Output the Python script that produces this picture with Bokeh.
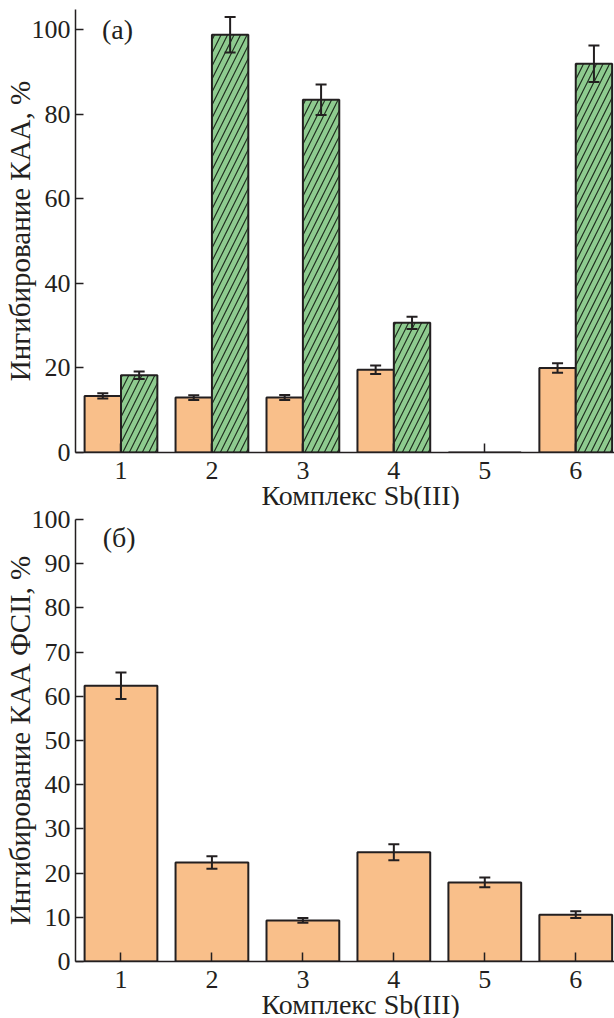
import math
from bokeh.plotting import figure
from bokeh.layouts import column
from bokeh.models import (ColumnDataSource, Whisker, TeeHead, FixedTicker,
                          Range1d, Label, Title)
from bokeh.embed import file_html
from bokeh.resources import INLINE

# ---- data ----
complexes = [1, 2, 3, 4, 5, 6]
tick_labels = ["1", "2", "3", "4", "5", "6"]
a_orange = [13.4, 13.0, 13.0, 19.6, 0.0, 20.0]
a_orange_err = [0.6, 0.55, 0.6, 1.0, 0.0, 1.15]
a_green = [18.3, 98.9, 83.5, 30.7, 0.0, 92.0]
a_green_err = [0.9, 4.2, 3.6, 1.45, 0.0, 4.3]
b_vals = [62.4, 22.4, 9.3, 24.7, 17.9, 10.6]
b_err = [3.0, 1.4, 0.55, 1.8, 1.1, 0.75]

xlabel = "Комплекс Sb(III)"
ylabel_a = "Ингибирование КАА, %"
ylabel_b = "Ингибирование КАА ФСII, %"

ORANGE = "#F9BF8A"
GREEN = "#8ECB8F"
INK = "#231f20"
FONT = "Liberation Serif"
TICK_FS = "26px"
LAB_FS = "29px"
XLAB_FS = "28px"


def style(p, yticks, ylabel, title_standoff):
    p.outline_line_color = None
    p.xgrid.visible = False
    p.ygrid.visible = False
    p.xaxis.ticker = FixedTicker(ticks=complexes)
    p.xaxis.major_label_overrides = {c: t for c, t in zip(complexes, tick_labels)}
    p.yaxis.ticker = FixedTicker(ticks=yticks)
    for ax in (p.xaxis[0], p.yaxis[0]):
        ax.axis_line_color = INK
        ax.axis_line_width = 1.5
        ax.major_tick_line_color = INK
        ax.major_tick_line_width = 1.5
        ax.major_tick_out = 0
        ax.minor_tick_line_color = None
        ax.major_label_text_font = FONT
        ax.major_label_text_font_size = TICK_FS
        ax.major_label_text_color = INK
    p.xaxis.major_tick_in = 9
    p.yaxis.major_tick_in = 8
    p.xaxis.major_label_standoff = 9
    p.yaxis.major_label_standoff = 5
    ya = p.yaxis[0]
    ya.axis_label = ylabel
    ya.axis_label_text_font = FONT
    ya.axis_label_text_font_size = LAB_FS
    ya.axis_label_text_font_style = "normal"
    ya.axis_label_text_color = INK
    ya.axis_label_standoff = -7
    t = Title(text=xlabel, align="left", offset=186, vertical_align="middle",
              text_font=FONT, text_font_size=XLAB_FS, text_font_style="normal",
              text_color=INK, standoff=title_standoff)
    p.add_layout(t, "below")


def whiskers(p, xs, vals, errs):
    xx = [x for x, e in zip(xs, errs) if e > 0]
    up = [v + e for v, e in zip(vals, errs) if e > 0]
    lo = [v - e for v, e in zip(vals, errs) if e > 0]
    src = ColumnDataSource(dict(x=xx, upper=up, lower=lo))
    w = Whisker(base="x", upper="upper", lower="lower", source=src,
                line_color=INK, line_width=2, level="overlay",
                upper_head=TeeHead(size=11, line_color=INK, line_width=2),
                lower_head=TeeHead(size=11, line_color=INK, line_width=2))
    p.add_layout(w)


def text(p, x, y, s, size):
    p.add_layout(Label(x=x, y=y, text=s, text_font=FONT,
                       text_font_size=size, text_color=INK,
                       text_align="left", text_baseline="middle"))


W = 614
H1 = 509
H2 = 509

# ---- panel (a) ----
p1 = figure(width=W, height=H1, output_backend="svg", toolbar_location=None,
            x_range=Range1d(0.5, 6.426), y_range=Range1d(0, 104.85),
            min_border_left=73, min_border_right=0, min_border_top=9,
            min_border_bottom=57)
style(p1, [0, 20, 40, 60, 80, 100], ylabel_a, -6)
xo = [c - 0.2 for c in complexes]
xg = [c + 0.2 for c in complexes]
p1.vbar(x=xo, top=a_orange, width=0.4, fill_color=ORANGE,
        line_color=INK, line_width=2)
p1.vbar(x=xg, top=a_green, width=0.4, fill_color=GREEN,
        line_color=INK, line_width=2, hatch_pattern="/",
        hatch_color="#1f2f1f", hatch_weight=1.2, hatch_scale=13)
whiskers(p1, xo, a_orange, a_orange_err)
whiskers(p1, xg, a_green, a_green_err)
text(p1, 0.79, 100.2, "(а)", "28px")

# ---- panel (б) ----
p2 = figure(width=W, height=H2, output_backend="svg", toolbar_location=None,
            x_range=Range1d(0.5, 6.426), y_range=Range1d(0, 100),
            min_border_left=73, min_border_right=0, min_border_top=10,
            min_border_bottom=57)
style(p2, [0, 10, 20, 30, 40, 50, 60, 70, 80, 90, 100], ylabel_b, -6)
p2.vbar(x=complexes, top=b_vals, width=0.8, fill_color=ORANGE,
        line_color=INK, line_width=2)
whiskers(p2, complexes, b_vals, b_err)
text(p2, 0.80, 96.0, "(б)", "28px")

layout = column(p1, p2, spacing=0)
open("out.html", "w").write(file_html(layout, INLINE))
